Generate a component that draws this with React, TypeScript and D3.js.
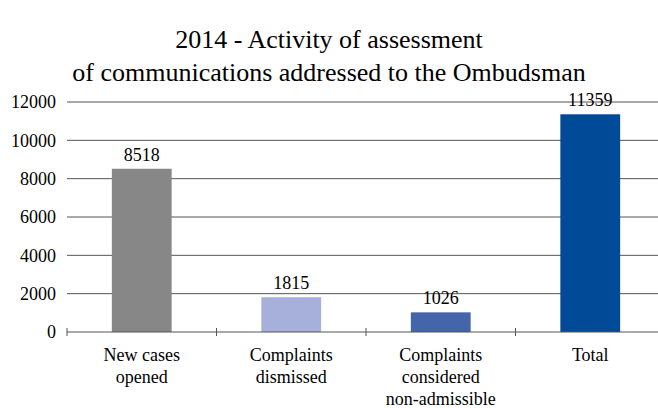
import React from "react"
import { scaleBand, scaleLinear } from "d3"

const categories = [
  ["New cases", "opened"],
  ["Complaints", "dismissed"],
  ["Complaints", "considered", "non-admissible"],
  ["Total"],
]
const values = [8518, 1815, 1026, 11359]
const colors = ["#878787", "#a6b0da", "#4565ab", "#004a97"]
const yTicks = [0, 2000, 4000, 6000, 8000, 10000, 12000]
const titleLines = [
  "2014 - Activity of assessment",
  "of communications addressed to the Ombudsman",
]

const W = 658
const H = 408
const txt = { fontFamily: '"Times New Roman"' }

export default function App() {
  const keys = categories.map((c) => c.join(" "))
  // plot area runs past the right edge, like the original crop
  const x = scaleBand().domain(keys).range([67, 665]).paddingInner(0.6).paddingOuter(0.3)
  const y = scaleLinear().domain([0, 12000]).range([332, 102])
  const step = x.step()

  return (
    <svg width={W} height={H} style={{ position: "absolute", left: 0, top: 0, fontFamily: '"Times New Roman"' }}>
      <rect width={W} height={H} fill="#fff" />
      {titleLines.map((t, i) => (
        <text key={i} x={329} y={48 + i * 33} textAnchor="middle" fontSize={26} style={txt}>
          {t}
        </text>
      ))}

      {yTicks.slice(1).map((v) => (
        <line key={v} x1={67} x2={W} y1={y(v)} y2={y(v)} stroke="#555" strokeWidth={1} />
      ))}
      {yTicks.map((v) => (
        <text key={v} x={56} y={y(v)} dy="0.35em" textAnchor="end" fontSize={18} style={txt}>
          {v}
        </text>
      ))}

      {keys.map((k, i) => (
        <rect
          key={k}
          x={x(k)!}
          y={y(values[i])}
          width={x.bandwidth()}
          height={y(0) - y(values[i])}
          fill={colors[i]}
        />
      ))}
      {keys.map((k, i) => (
        <text
          key={k}
          x={x(k)! + x.bandwidth() / 2}
          y={y(values[i]) - 8}
          textAnchor="middle"
          fontSize={18}
          style={txt}
        >
          {values[i]}
        </text>
      ))}

      <line x1={67} x2={W} y1={y(0)} y2={y(0)} stroke="#555" strokeWidth={1} />
      {keys.map((k) => {
        const left = x(k)! - (step - x.bandwidth()) / 2
        return <line key={k} x1={left} x2={left} y1={y(0) - 4} y2={y(0) + 4} stroke="#555" />
      })}

      {keys.map((k, i) =>
        categories[i].map((line, j) => (
          <text
            key={k + j}
            x={x(k)! + x.bandwidth() / 2}
            y={361 + j * 22}
            textAnchor="middle"
            fontSize={18}
            style={txt}
          >
            {line}
          </text>
        ))
      )}
    </svg>
  )
}
